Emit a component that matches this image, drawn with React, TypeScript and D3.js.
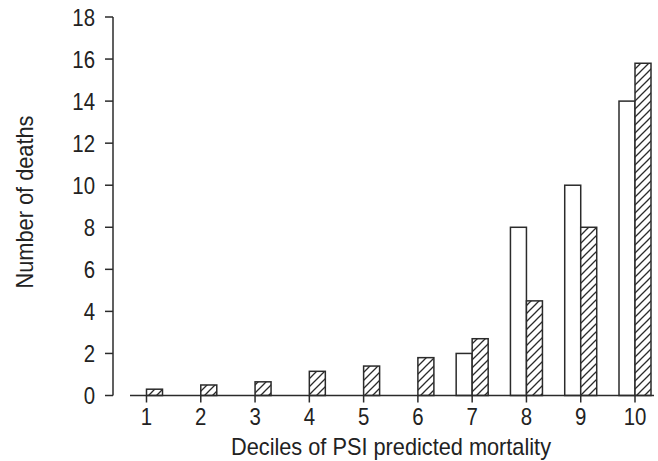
import React, { useEffect, useRef } from "react";
import * as d3 from "d3";

// deciles of PSI predicted mortality
const deciles = ["1", "2", "3", "4", "5", "6", "7", "8", "9", "10"];
// observed deaths (open bars)
const observed = [0, 0, 0, 0, 0, 0, 2, 8, 10, 14];
// predicted deaths (hatched bars)
const predicted = [0.3, 0.5, 0.65, 1.15, 1.4, 1.8, 2.7, 4.5, 8, 15.8];
const yTicks = [0, 2, 4, 6, 8, 10, 12, 14, 16, 18];

const W = 658;
const H = 461;
const ink = "#2b2b2b";
const font = "'Liberation Sans', Arial, sans-serif";

export default function App() {
  const ref = useRef<SVGSVGElement>(null);

  useEffect(() => {
    const svg = d3.select(ref.current);
    svg.selectAll("*").remove();

    const x = d3.scalePoint<string>().domain(deciles).range([146.5, 635]);
    const y = d3.scaleLinear().domain([0, 18]).range([395.5, 17]);
    const bw = 16;

    const defs = svg.append("defs");
    const pat = defs
      .append("pattern")
      .attr("id", "hatch")
      .attr("patternUnits", "userSpaceOnUse")
      .attr("width", 8)
      .attr("height", 8);
    pat.append("rect").attr("width", 8).attr("height", 8).attr("fill", "#fff");
    pat
      .append("path")
      .attr("d", "M-2,2 L2,-2 M0,8 L8,0 M6,10 L10,6")
      .attr("stroke", ink)
      .attr("stroke-width", 1.3);

    // y axis
    const ya = svg.append("g").attr("transform", "translate(113,0)");
    ya.append("line")
      .attr("x1", 0)
      .attr("x2", 0)
      .attr("y1", y(18))
      .attr("y2", y(0))
      .attr("stroke", ink)
      .attr("stroke-width", 1.5);
    const yt = ya
      .selectAll("g.tick")
      .data(yTicks)
      .enter()
      .append("g")
      .attr("transform", (d) => `translate(0,${y(d)})`);
    yt.append("line").attr("x1", -8).attr("x2", 0).attr("stroke", ink).attr("stroke-width", 1.5);
    yt.append("text")
      .attr("transform", "translate(-18,0) scale(0.85,1)")
      .attr("text-anchor", "end")
      .attr("dy", "0.36em")
      .attr("font-family", font)
      .attr("font-size", 24)
      .attr("fill", "#222")
      .text((d) => d);

    // bars
    const g = svg.append("g");
    g.selectAll("rect.obs")
      .data(deciles.filter((_, i) => observed[i] > 0))
      .enter()
      .append("rect")
      .attr("x", (d) => (x(d) as number) - bw)
      .attr("y", (d) => y(observed[deciles.indexOf(d)]))
      .attr("width", bw)
      .attr("height", (d) => y(0) - y(observed[deciles.indexOf(d)]))
      .attr("fill", "#fff")
      .attr("stroke", ink)
      .attr("stroke-width", 1.5);
    g.selectAll("rect.pred")
      .data(deciles)
      .enter()
      .append("rect")
      .attr("x", (d) => x(d) as number)
      .attr("y", (d, i) => y(predicted[i]))
      .attr("width", bw)
      .attr("height", (d, i) => y(0) - y(predicted[i]))
      .attr("fill", "url(#hatch)")
      .attr("stroke", ink)
      .attr("stroke-width", 1.5);

    // x axis
    const xa = svg.append("g").attr("transform", `translate(0,${y(0)})`);
    xa.append("line")
      .attr("x1", 130)
      .attr("x2", 654)
      .attr("stroke", ink)
      .attr("stroke-width", 1.5);
    const xt = xa
      .selectAll("g.tick")
      .data(deciles)
      .enter()
      .append("g")
      .attr("transform", (d) => `translate(${x(d)},0)`);
    xt.append("line").attr("y1", 0).attr("y2", 7).attr("stroke", ink).attr("stroke-width", 1.5);
    xt.append("text")
      .attr("transform", "translate(0,29) scale(0.85,1)")
      .attr("text-anchor", "middle")
      .attr("font-family", font)
      .attr("font-size", 24)
      .attr("fill", "#222")
      .text((d) => d);

    svg
      .append("text")
      .attr("x", 391)
      .attr("y", 455)
      .attr("text-anchor", "middle")
      .attr("font-family", font)
      .attr("font-size", 24)
      .attr("textLength", 320)
      .attr("lengthAdjust", "spacingAndGlyphs")
      .attr("fill", "#222")
      .text("Deciles of PSI predicted mortality");

    svg
      .append("text")
      .attr("transform", "translate(33,202) rotate(-90)")
      .attr("text-anchor", "middle")
      .attr("font-family", font)
      .attr("font-size", 24)
      .attr("textLength", 173)
      .attr("lengthAdjust", "spacingAndGlyphs")
      .attr("fill", "#222")
      .text("Number of deaths");
  }, []);

  return (
    <svg
      ref={ref}
      width={W}
      height={H}
      style={{ position: "absolute", left: 0, top: 0, background: "#fff" }}
    />
  );
}
